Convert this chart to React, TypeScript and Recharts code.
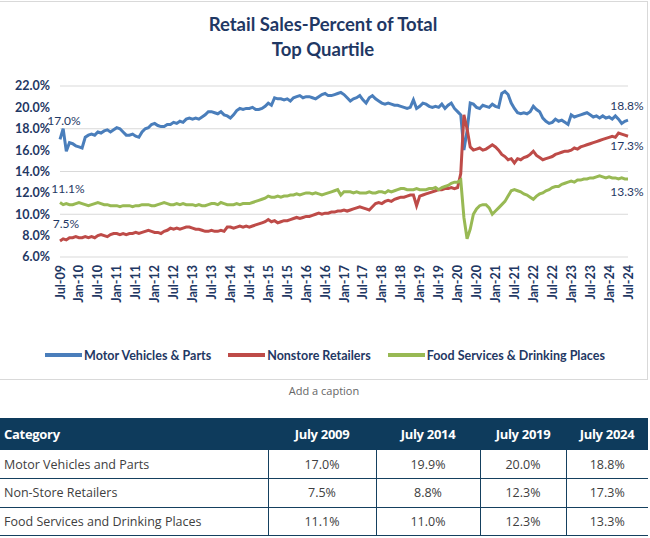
import React from 'react';
import { LineChart, Line, XAxis, YAxis, CartesianGrid, LabelList } from 'recharts';

// monthly share of total retail sales, Jul-2009 .. Jul-2024 (one line per calendar year)
const motorVehicles = [
  17.0, 18.0, 15.9, 16.7, 16.6, 16.4,
  16.3, 16.2, 17.2, 17.4, 17.5, 17.4, 17.7, 17.6, 17.8, 17.9, 17.7, 17.9,
  18.1, 18.0, 17.7, 17.4, 17.4, 17.5, 17.3, 17.2, 17.7, 18.0, 18.1, 18.4,
  18.5, 18.3, 18.2, 18.2, 18.4, 18.4, 18.6, 18.5, 18.7, 18.6, 18.9, 19.0,
  18.9, 19.0, 18.9, 19.1, 19.3, 19.6, 19.6, 19.5, 19.4, 19.6, 19.3, 19.2,
  19.0, 19.3, 19.7, 19.9, 19.8, 19.9, 19.9, 20.0, 19.8, 19.8, 19.9, 20.1,
  20.4, 20.2, 20.9, 20.8, 20.8, 20.7, 20.8, 20.6, 20.9, 21.0, 21.1, 20.9,
  21.0, 21.0, 20.9, 20.8, 21.0, 21.2, 21.3, 21.1, 21.1, 21.2, 21.3, 21.4,
  21.2, 20.9, 20.6, 20.8, 20.9, 21.1, 20.7, 20.4, 20.9, 21.1, 20.8, 20.6,
  20.4, 20.3, 20.4, 20.3, 20.2, 20.2, 20.1, 20.0, 19.9, 20.0, 20.7, 19.9,
  20.1, 20.4, 20.3, 20.1, 20.0, 20.1, 20.0, 20.3, 19.9, 20.2, 20.4, 19.9,
  19.6, 19.3, 16.0, 17.8, 20.4, 20.3, 20.0, 19.9, 20.2, 20.1, 20.0, 20.3,
  20.1, 20.0, 21.3, 21.5, 21.2, 20.4, 19.9, 19.5, 19.4, 19.5, 19.4, 19.6,
  20.1, 19.8, 19.6, 19.0, 18.7, 18.5, 18.6, 18.9, 18.7, 18.8, 18.6, 18.4,
  19.3, 19.1, 19.2, 19.3, 19.4, 19.5, 19.3, 19.1, 19.2, 19.0, 19.2, 19.0,
  19.1, 18.9, 19.2, 18.9, 18.5, 18.7, 18.8,
];

const nonstoreRetailers = [
  7.5, 7.7, 7.6, 7.8, 7.8, 7.9,
  7.8, 7.8, 7.9, 7.8, 7.9, 7.8, 8.0, 8.1, 8.0, 7.9, 8.1, 8.2,
  8.2, 8.1, 8.2, 8.1, 8.2, 8.2, 8.3, 8.2, 8.3, 8.4, 8.5, 8.4,
  8.3, 8.3, 8.2, 8.4, 8.5, 8.7, 8.6, 8.7, 8.6, 8.7, 8.8, 8.8,
  8.7, 8.6, 8.6, 8.5, 8.4, 8.4, 8.5, 8.4, 8.4, 8.5, 8.4, 8.8,
  8.8, 8.7, 8.8, 8.9, 8.8, 8.9, 8.8, 8.9, 9.0, 9.1, 9.2, 9.3,
  9.5, 9.3, 9.4, 9.2, 9.3, 9.4, 9.4, 9.5, 9.6, 9.7, 9.6, 9.7,
  9.8, 9.8, 9.9, 10.0, 10.1, 10.0, 10.1, 10.1, 10.2, 10.2, 10.3, 10.3,
  10.4, 10.3, 10.4, 10.5, 10.6, 10.7, 10.6, 10.5, 10.4, 10.7, 11.0, 11.1,
  11.0, 11.2, 11.3, 11.2, 11.4, 11.5, 11.6, 11.6, 11.7, 11.8, 11.8, 10.8,
  11.7, 11.8, 11.9, 12.0, 12.1, 12.2, 12.3, 12.3, 12.4, 12.4, 12.5, 12.4,
  12.5, 13.8, 19.3, 18.0, 16.3, 16.0, 16.1, 16.2, 16.0, 16.1, 16.3, 16.5,
  16.3, 16.0, 15.6, 15.4, 15.1, 15.2, 14.8, 15.2, 15.1, 15.3, 15.4, 15.6,
  15.9, 15.5, 15.3, 15.1, 15.2, 15.3, 15.4, 15.6, 15.7, 15.8, 15.9, 15.9,
  16.0, 16.2, 16.1, 16.3, 16.4, 16.5, 16.6, 16.7, 16.8, 16.9, 17.0, 17.1,
  17.2, 17.3, 17.2, 17.6, 17.5, 17.4, 17.3,
];

const foodServices = [
  11.1, 10.9, 11.0, 10.9, 10.9, 11.0,
  11.1, 11.0, 10.9, 10.8, 10.9, 11.0, 11.1, 11.0, 10.9, 10.9, 10.8, 10.8,
  10.8, 10.7, 10.8, 10.8, 10.8, 10.7, 10.8, 10.8, 10.9, 10.9, 10.9, 10.8,
  10.8, 10.9, 11.0, 11.1, 11.0, 10.9, 10.9, 11.0, 10.9, 11.0, 10.9, 10.9,
  10.9, 10.8, 10.9, 10.8, 10.8, 10.9, 11.0, 11.0, 10.9, 11.1, 11.0, 10.9,
  10.9, 10.9, 11.0, 10.9, 11.0, 11.0, 11.0, 11.1, 11.2, 11.3, 11.4, 11.5,
  11.7, 11.6, 11.6, 11.7, 11.6, 11.7, 11.7, 11.8, 11.8, 11.9, 11.8, 11.9,
  12.0, 12.0, 11.9, 12.0, 11.9, 11.8, 11.9, 12.0, 12.1, 12.2, 12.3, 11.8,
  12.1, 12.1, 12.1, 12.0, 12.1, 12.0, 12.0, 12.0, 12.1, 12.0, 12.0, 12.1,
  12.1, 12.0, 12.2, 12.1, 12.2, 12.3, 12.4, 12.4, 12.3, 12.3, 12.3, 12.4,
  12.3, 12.3, 12.3, 12.4, 12.4, 12.5, 12.3, 12.5, 12.6, 12.7, 12.9, 13.0,
  13.0, 13.2, 9.7, 7.7, 8.6, 10.0, 10.5, 10.8, 10.9, 10.9, 10.6, 10.0,
  10.3, 10.6, 10.9, 11.2, 11.7, 12.2, 12.3, 12.2, 12.1, 11.9, 11.8, 11.6,
  11.4, 11.7, 11.9, 12.0, 12.2, 12.3, 12.5, 12.6, 12.6, 12.8, 12.9, 13.0,
  13.1, 13.0, 13.2, 13.2, 13.3, 13.3, 13.4, 13.4, 13.5, 13.6, 13.5, 13.4,
  13.5, 13.4, 13.4, 13.3, 13.4, 13.3, 13.3,
];

const monthNames = ['Jan', 'Feb', 'Mar', 'Apr', 'May', 'Jun', 'Jul', 'Aug', 'Sep', 'Oct', 'Nov', 'Dec'];
const yTicks = [6, 8, 10, 12, 14, 16, 18, 20, 22];

const tableHeaders = ['Category', 'July 2009', 'July 2014', 'July 2019', 'July 2024'];
const tableCategories = ['Motor Vehicles and Parts', 'Non-Store Retailers', 'Food Services and Drinking Places'];
const tableValues = [
  [17.0, 19.9, 20.0, 18.8],
  [7.5, 8.8, 12.3, 17.3],
  [11.1, 11.0, 12.3, 13.3],
];

// Jul-09 ... Jul-24
const months = motorVehicles.map((_, i) => {
  const m = (6 + i) % 12;
  const y = 2009 + Math.floor((6 + i) / 12);
  return `${monthNames[m]}-${String(y % 100).padStart(2, '0')}`;
});

const data = months.map((month, i) => ({
  month,
  motor: motorVehicles[i],
  nonstore: nonstoreRetailers[i],
  food: foodServices[i],
}));

const NAVY = '#1F3864';
const FONT = 'Lato, "Open Sans", sans-serif';
const TABLE_FONT = '"Open Sans", "Noto Sans", sans-serif';

const series = [
  { key: 'motor', name: 'Motor Vehicles & Parts', color: '#4A7EBB', first: [4, -19], last: [-1, -15] },
  { key: 'nonstore', name: 'Nonstore Retailers', color: '#BE4B48', first: [6, -17], last: [-1, 9] },
  { key: 'food', name: 'Food Services & Drinking Places', color: '#98B954', first: [8, -14], last: [-1, 13] },
];

const XTick = ({ x, y, payload }: any) => (
  <text
    x={x}
    y={y}
    transform={`rotate(-90 ${x} ${y})`}
    textAnchor="end"
    dominantBaseline="central"
    fill={NAVY}
    fontSize={12.5}
    fontWeight={700}
    fontFamily={FONT}
  >
    {payload.value}
  </text>
);

const endLabel = (first: number[], last: number[]) => (props: any) => {
  const { x, y, index, value } = props;
  let off: number[] | null = null;
  if (index === 0) off = first;
  if (index === data.length - 1) off = last;
  if (!off) return null;
  return (
    <text
      x={x + off[0]}
      y={y + off[1]}
      textAnchor="middle"
      dominantBaseline="central"
      fill={NAVY}
      fontSize={12}
      fontFamily={FONT}
    >
      {Number(value).toFixed(1)}%
    </text>
  );
};

export default function App() {
  const cellBorder = '1px solid #15405f';
  return (
    <div style={{ position: 'absolute', left: 0, top: 0, width: 650, height: 538, background: '#fff', overflow: 'hidden' }}>
      <div
        style={{
          position: 'absolute', left: -1, top: 1, width: 649, height: 379,
          border: '1px solid #d9d9d9', boxSizing: 'border-box',
        }}
      />
      <div
        style={{
          position: 'absolute', left: 0, top: 12, width: 646, textAlign: 'center',
          fontFamily: FONT, fontWeight: 700, fontSize: 18.5, lineHeight: '25px', color: NAVY,
        }}
      >
        Retail Sales-Percent of Total
        <br />
        Top Quartile
      </div>

      <div style={{ position: 'absolute', left: 0, top: 0 }}>
        <LineChart width={648} height={380} data={data} margin={{ top: 86, right: 20, bottom: 58, left: 0 }}>
          <CartesianGrid vertical={false} stroke="#d9d9d9" strokeWidth={1} />
          <XAxis
            dataKey="month"
            interval={5}
            axisLine={false}
            tickLine={false}
            height={65}
            tick={<XTick />}
          />
          <YAxis
            domain={[6, 22]}
            ticks={yTicks}
            width={60}
            axisLine={false}
            tickLine={false}
            tickMargin={4}
            tickFormatter={(v: number) => `${v.toFixed(1)}%`}
            tick={{ fill: NAVY, fontSize: 12.5, fontWeight: 700, fontFamily: FONT }}
          />
          {series.map((s) => (
            <Line
              key={s.key}
              type="linear"
              dataKey={s.key}
              stroke={s.color}
              strokeWidth={3}
              dot={false}
              isAnimationActive={false}
            >
              <LabelList dataKey={s.key} content={endLabel(s.first, s.last)} />
            </Line>
          ))}
        </LineChart>
      </div>

      <div
        style={{
          position: 'absolute', left: 0, top: 346, width: 650, height: 18,
          display: 'flex', justifyContent: 'center', alignItems: 'center', gap: 17,
          fontFamily: FONT, fontWeight: 700, fontSize: 12.5, color: NAVY,
        }}
      >
        {series.map((s) => (
          <div key={s.key} style={{ display: 'flex', alignItems: 'center' }}>
            <span style={{ display: 'inline-block', width: 37, height: 4, background: s.color, marginRight: 2 }} />
            {s.name}
          </div>
        ))}
      </div>

      <div
        style={{
          position: 'absolute', left: 0, top: 383, width: 648, textAlign: 'center',
          fontFamily: TABLE_FONT, fontSize: 11, color: '#666', lineHeight: '16px',
        }}
      >
        Add a caption
      </div>

      <table
        style={{
          position: 'absolute', left: 0, top: 418, width: 648, borderCollapse: 'collapse',
          tableLayout: 'fixed', fontFamily: TABLE_FONT, fontSize: 12.5, color: '#404040',
        }}
      >
        <colgroup>
          <col style={{ width: 268 }} />
          <col style={{ width: 108 }} />
          <col style={{ width: 104 }} />
          <col style={{ width: 86 }} />
          <col style={{ width: 82 }} />
        </colgroup>
        <thead>
          <tr style={{ background: '#0E3B5C', color: '#fff', height: 32 }}>
            {tableHeaders.map((h, i) => (
              <th
                key={h}
                style={{
                  textAlign: i === 0 ? 'left' : 'center', padding: i === 0 ? '0 0 0 4px' : 0,
                  fontWeight: 700, fontSize: 13, letterSpacing: -0.3,
                }}
              >
                {h}
              </th>
            ))}
          </tr>
        </thead>
        <tbody>
          {tableCategories.map((c, r) => (
            <tr key={c} style={{ height: 28.5 }}>
              <td style={{ padding: '0 0 0 4px', borderBottom: cellBorder, borderRight: cellBorder }}>{c}</td>
              {tableValues[r].map((v, i) => (
                <td
                  key={i}
                  style={{
                    textAlign: 'center', padding: 0, borderBottom: cellBorder,
                    borderRight: i < 3 ? cellBorder : 'none',
                  }}
                >
                  {v.toFixed(1)}%
                </td>
              ))}
            </tr>
          ))}
        </tbody>
      </table>
    </div>
  );
}
